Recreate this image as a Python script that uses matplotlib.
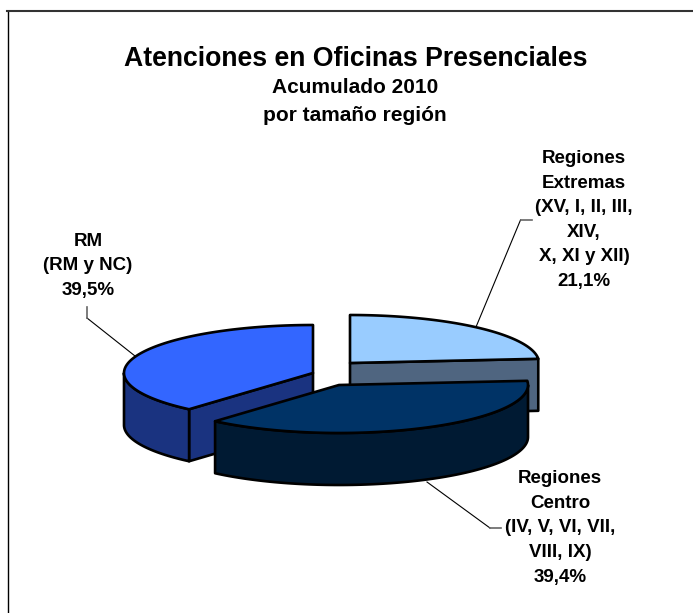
import numpy as np
import matplotlib
matplotlib.use("Agg")
import matplotlib.pyplot as plt
from matplotlib.patches import Polygon

plt.rcParams['font.family'] = ['Liberation Sans', 'DejaVu Sans']

title = "Atenciones en Oficinas Presenciales"
subtitle = "Acumulado 2010\npor tamaño región"
categories = ["Regiones\nExtremas\n(XV, I, II, III,\nXIV,\nX, XI y XII)",
              "Regiones\nCentro\n(IV, V, VI, VII,\nVIII, IX)",
              "RM\n(RM y NC)"]
values = [21.1, 39.4, 39.5]
top_colors = ["#99CCFF", "#003366", "#3366FF"]
side_colors = ["#4F6580", "#001A33", "#1A3380"]
# slice apex positions in image pixels (exploded pie)
centers = [(350, 363), (339, 385), (313, 373)]
label_pos = [(584, 220), (560, 528), (88, 266)]
leaders = [[(476, 327), (520.5, 220), (532, 220)],
           [(427, 482), (490, 528), (501, 528)],
           [(135, 356), (87, 318), (87, 307)]]
RX, RY, DEPTH = 189, 48, 52

fig = plt.figure(figsize=(6.93, 6.13), dpi=100)
ax = fig.add_axes([0, 0, 1, 1])
ax.set_xlim(0, 693)
ax.set_ylim(613, 0)
ax.axis('off')

ax.plot([7.5, 7.5], [613, 10.5], color='black', lw=1.0, zorder=1)
ax.plot([7, 693], [10.5, 10.5], color='#333333', lw=1.5, zorder=1)


def warp(theta):
    # perspective foreshortening of the clockwise-from-top slice angle
    r = np.radians(theta)
    return theta + 5.9 * np.sin(r) + 7.0 * np.sin(2 * r)


def arc(cx, cy, t0, t1, dy=0):
    t = np.radians(np.linspace(t0, t1, 100))
    return np.column_stack([cx + RX * np.sin(t), cy - RY * np.cos(t) + dy])


edges = np.cumsum([0] + values) / sum(values) * 360
edge_kw = dict(edgecolor='black', linewidth=1.9, joinstyle='round')

for i in [0, 2, 1]:
    cx, cy = centers[i]
    t0, t1 = warp(edges[i]), warp(edges[i + 1])
    z = {0: 2, 2: 4, 1: 6}[i]
    # radial faces that look towards the viewer
    for t in (t0, t1):
        if (i == 0 and t == t1) or (i == 2 and t == t0):
            end = arc(cx, cy, t, t, 0)[0]
            face = [(cx, cy), tuple(end), (end[0], end[1] + DEPTH), (cx, cy + DEPTH)]
            ax.add_patch(Polygon(face, closed=True, facecolor=side_colors[i], zorder=z, **edge_kw))
    # outer wall: the part of the arc in front (90..270 degrees)
    a0, a1 = max(t0, 90), min(t1, 270)
    if a1 > a0:
        upper = arc(cx, cy, a0, a1)
        lower = arc(cx, cy, a1, a0, DEPTH)
        ax.add_patch(Polygon(np.vstack([upper, lower]), closed=True,
                             facecolor=side_colors[i], zorder=z, **edge_kw))
    # top face
    top = np.vstack([[(cx, cy)], arc(cx, cy, t0, t1)])
    ax.add_patch(Polygon(top, closed=True, facecolor=top_colors[i], zorder=z + 1, **edge_kw))

ax.text(355.5, 59, title, ha='center', va='center', fontsize=19.2, fontweight='bold', zorder=10)
ax.text(355, 101.5, subtitle, ha='center', va='center', fontsize=15, fontweight='bold',
        linespacing=1.63, zorder=10)

for cat, v, (x, y), ld in zip(categories, values, label_pos, leaders):
    txt = f"{cat}\n{v:.1f}%".replace('.', ',')
    ax.text(x, y, txt, ha='center', va='center', fontsize=13.5, fontweight='bold',
            linespacing=1.58, zorder=10)
    xs, ys = zip(*ld)
    ax.plot(xs[:2], ys[:2], color='black', lw=0.8, zorder=1)
    ax.plot(xs[1:], ys[1:], color='#666666', lw=1.2, zorder=1)

fig.savefig("out.png", dpi=100)
